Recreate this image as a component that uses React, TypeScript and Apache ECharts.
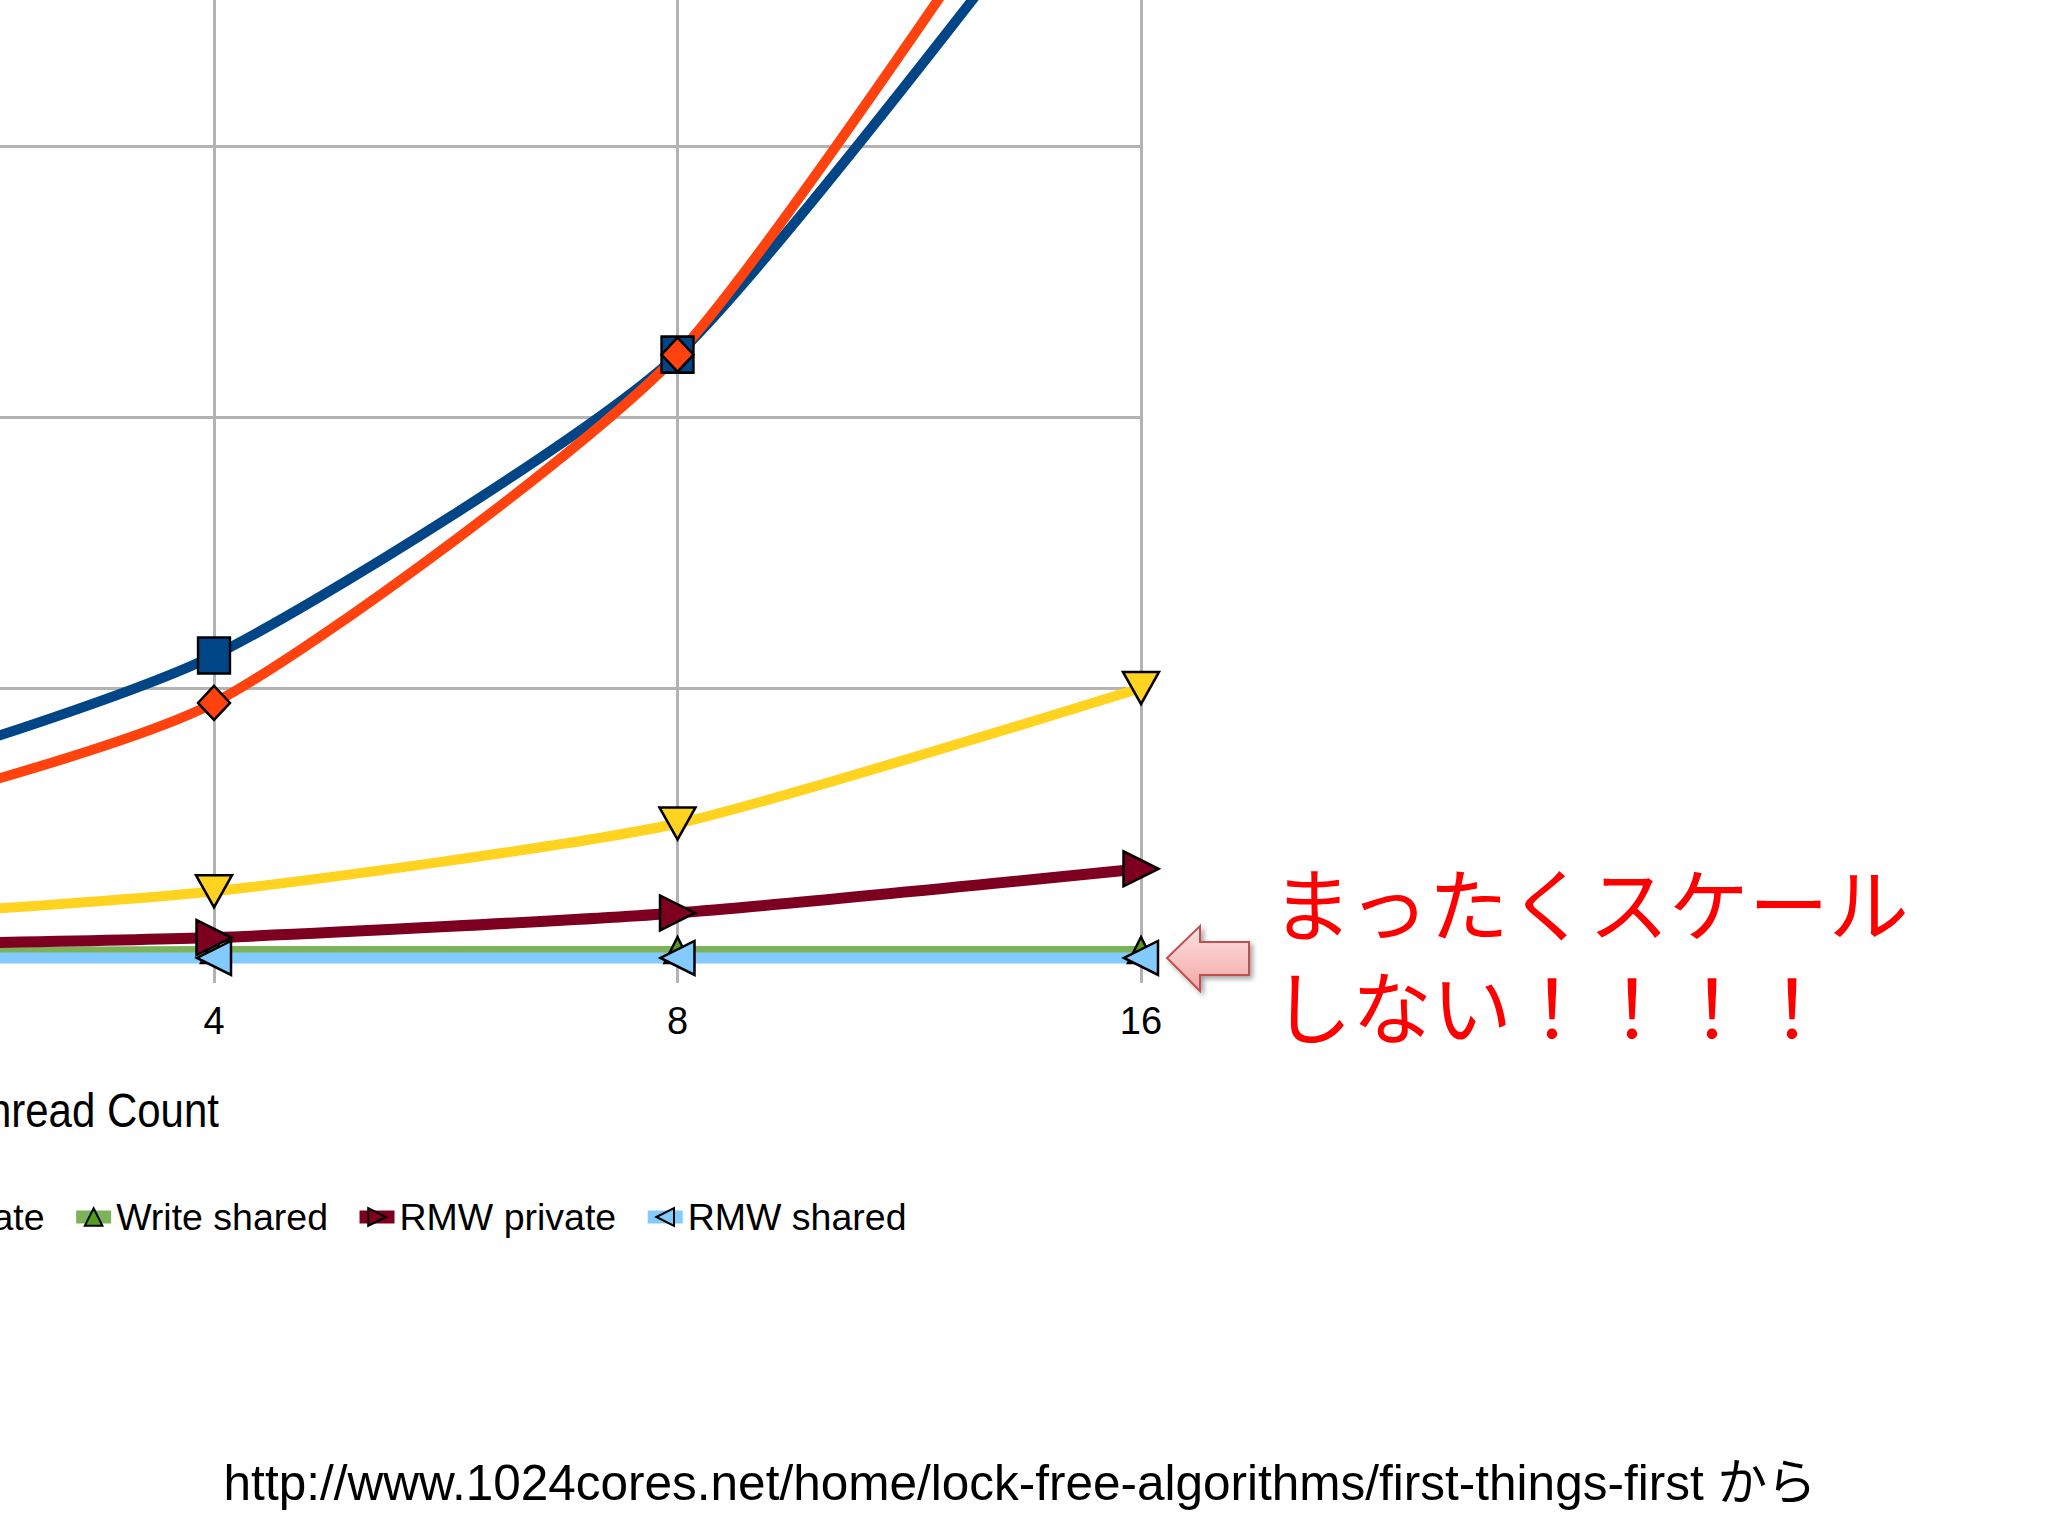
import React, { useEffect, useRef } from "react";
import * as echarts from "echarts";

// ---- data (grid units: one horizontal gridline step = 1) ----
const categories = ["1", "2", "4", "8", "16"];
const seriesNames = ["Read private", "Read shared", "Write private", "Write shared", "RMW private", "RMW shared"];
const readPrivate = [0.3, 0.55, 1.12, 2.23, 4.35];
const readShared = [0.25, 0.43, 0.945, 2.23, 4.65];
const writePrivate = [0.08, 0.13, 0.25, 0.5, 1.0];
const writeShared = [0.02, 0.026, 0.033, 0.033, 0.033];
const rmwPrivate = [0.02, 0.045, 0.079, 0.17, 0.333];
const rmwShared = [0.003, 0.004, 0.004, 0.004, 0.004];
const yMin = 0;
const yMax = 5;
const yInterval = 1;

const axisTitle = "Thread Count";
const annotationLines = ["まったくスケール", "しない！！！！"];
const sourceText = "http://www.1024cores.net/home/lock-free-algorithms/first-things-first から";

const SANS = "'Liberation Sans', Arial, sans-serif";
const GRID_COLOR = "#b3b3b3";

export default function App() {
  const ref = useRef<HTMLDivElement>(null);

  useEffect(() => {
    if (!ref.current) return;
    const chart = echarts.init(ref.current, undefined, { renderer: "svg" });

    const mk = (
      name: string,
      data: number[],
      color: string,
      lineColor: string,
      lineWidth: number,
      symbol: string,
      symbolSize: number[],
      symbolRotate: number
    ) => ({
      name,
      type: "line",
      data,
      color,
      symbol,
      symbolSize,
      symbolRotate,
      smooth: 0.2,
      showAllSymbol: true,
      clip: false,
      lineStyle: { color: lineColor, width: lineWidth },
      itemStyle: { color, borderColor: "#000", borderWidth: 2.5 },
      emphasis: { disabled: true },
    });

    const option: any = {
      animation: false,
      backgroundColor: "#ffffff",
      grid: {
        left: -713,
        right: 907,
        top: 959 - 271 * yMax,
        bottom: 1536 - 959,
        containLabel: false,
        outerBoundsMode: "none",
      },
      xAxis: {
        type: "category",
        data: categories,
        boundaryGap: false,
        axisLine: { show: true, lineStyle: { color: GRID_COLOR, width: 3 } },
        axisTick: { show: true, length: 24, lineStyle: { color: GRID_COLOR, width: 3 } },
        axisLabel: { color: "#000", fontSize: 38, fontFamily: SANS, margin: 43 },
        splitLine: { show: true, lineStyle: { color: GRID_COLOR, width: 3 } },
      },
      yAxis: {
        type: "value",
        min: yMin,
        max: yMax,
        interval: yInterval,
        axisLine: { show: false },
        axisTick: { show: false },
        axisLabel: { show: false },
        splitLine: { show: true, lineStyle: { color: GRID_COLOR, width: 3 } },
      },
      legend: {
        data: seriesNames,
        left: -787,
        top: 1193,
        orient: "horizontal",
        itemWidth: 35,
        itemHeight: 22,
        itemGap: 25,
        lineStyle: { width: 13 },
        textStyle: { color: "#000", fontSize: 37.5, fontFamily: SANS },
      },
      series: [
        mk(seriesNames[0], readPrivate, "#004586", "#004586", 10, "rect", [32, 36], 0),
        mk(seriesNames[1], readShared, "#ff420e", "#ff420e", 10, "diamond", [32, 34], 0),
        mk(seriesNames[2], writePrivate, "#ffd320", "#ffd320", 10, "triangle", [36, 32], 180),
        mk(seriesNames[3], writeShared, "#579d1c", "#7cb35a", 8, "triangle", [26, 26], 0),
        mk(seriesNames[4], rmwPrivate, "#7e0021", "#7e0021", 11, "triangle", [35, 35], -90),
        mk(seriesNames[5], rmwShared, "#83caff", "#83caff", 11, "triangle", [34, 34], 90),
      ],
      graphic: [
        {
          type: "text",
          x: 219,
          y: 1110,
          scaleY: 1.15,
          style: {
            text: axisTitle,
            fill: "#000",
            fontSize: 42,
            fontFamily: SANS,
            align: "right",
            textAlign: "right",
            verticalAlign: "middle",
            textVerticalAlign: "middle",
          },
        },
        {
          type: "polygon",
          shape: {
            points: [
              [1167, 958],
              [1200, 926],
              [1200, 942],
              [1249, 942],
              [1249, 975],
              [1200, 975],
              [1200, 991],
            ],
          },
          style: {
            fill: new echarts.graphic.LinearGradient(0, 0, 0, 1, [
              { offset: 0, color: "#fde2e2" },
              { offset: 1, color: "#f4a6a6" },
            ]),
            stroke: "#c0504d",
            lineWidth: 2,
            shadowBlur: 5,
            shadowColor: "rgba(0,0,0,0.35)",
            shadowOffsetX: 3,
            shadowOffsetY: 3,
          },
        },
        {
          type: "text",
          x: 1272,
          y: 951,
          style: {
            text: annotationLines.join("\n"),
            fill: "#ff0000",
            fontSize: 80,
            lineHeight: 103,
            fontFamily: "'Noto Sans CJK JP', sans-serif",
            align: "left",
            textAlign: "left",
            verticalAlign: "middle",
            textVerticalAlign: "middle",
          },
        },
        {
          type: "text",
          x: 1020,
          y: 1482,
          style: {
            text: sourceText,
            fill: "#000",
            fontSize: 49.5,
            fontFamily: "'Liberation Sans', 'Noto Sans CJK JP', sans-serif",
            align: "center",
            textAlign: "center",
            verticalAlign: "middle",
            textVerticalAlign: "middle",
          },
        },
      ],
    };

    chart.setOption(option);
    return () => chart.dispose();
  }, []);

  return (
    <div
      ref={ref}
      style={{ position: "absolute", left: 0, top: 0, width: 2048, height: 1536, background: "#fff" }}
    />
  );
}
